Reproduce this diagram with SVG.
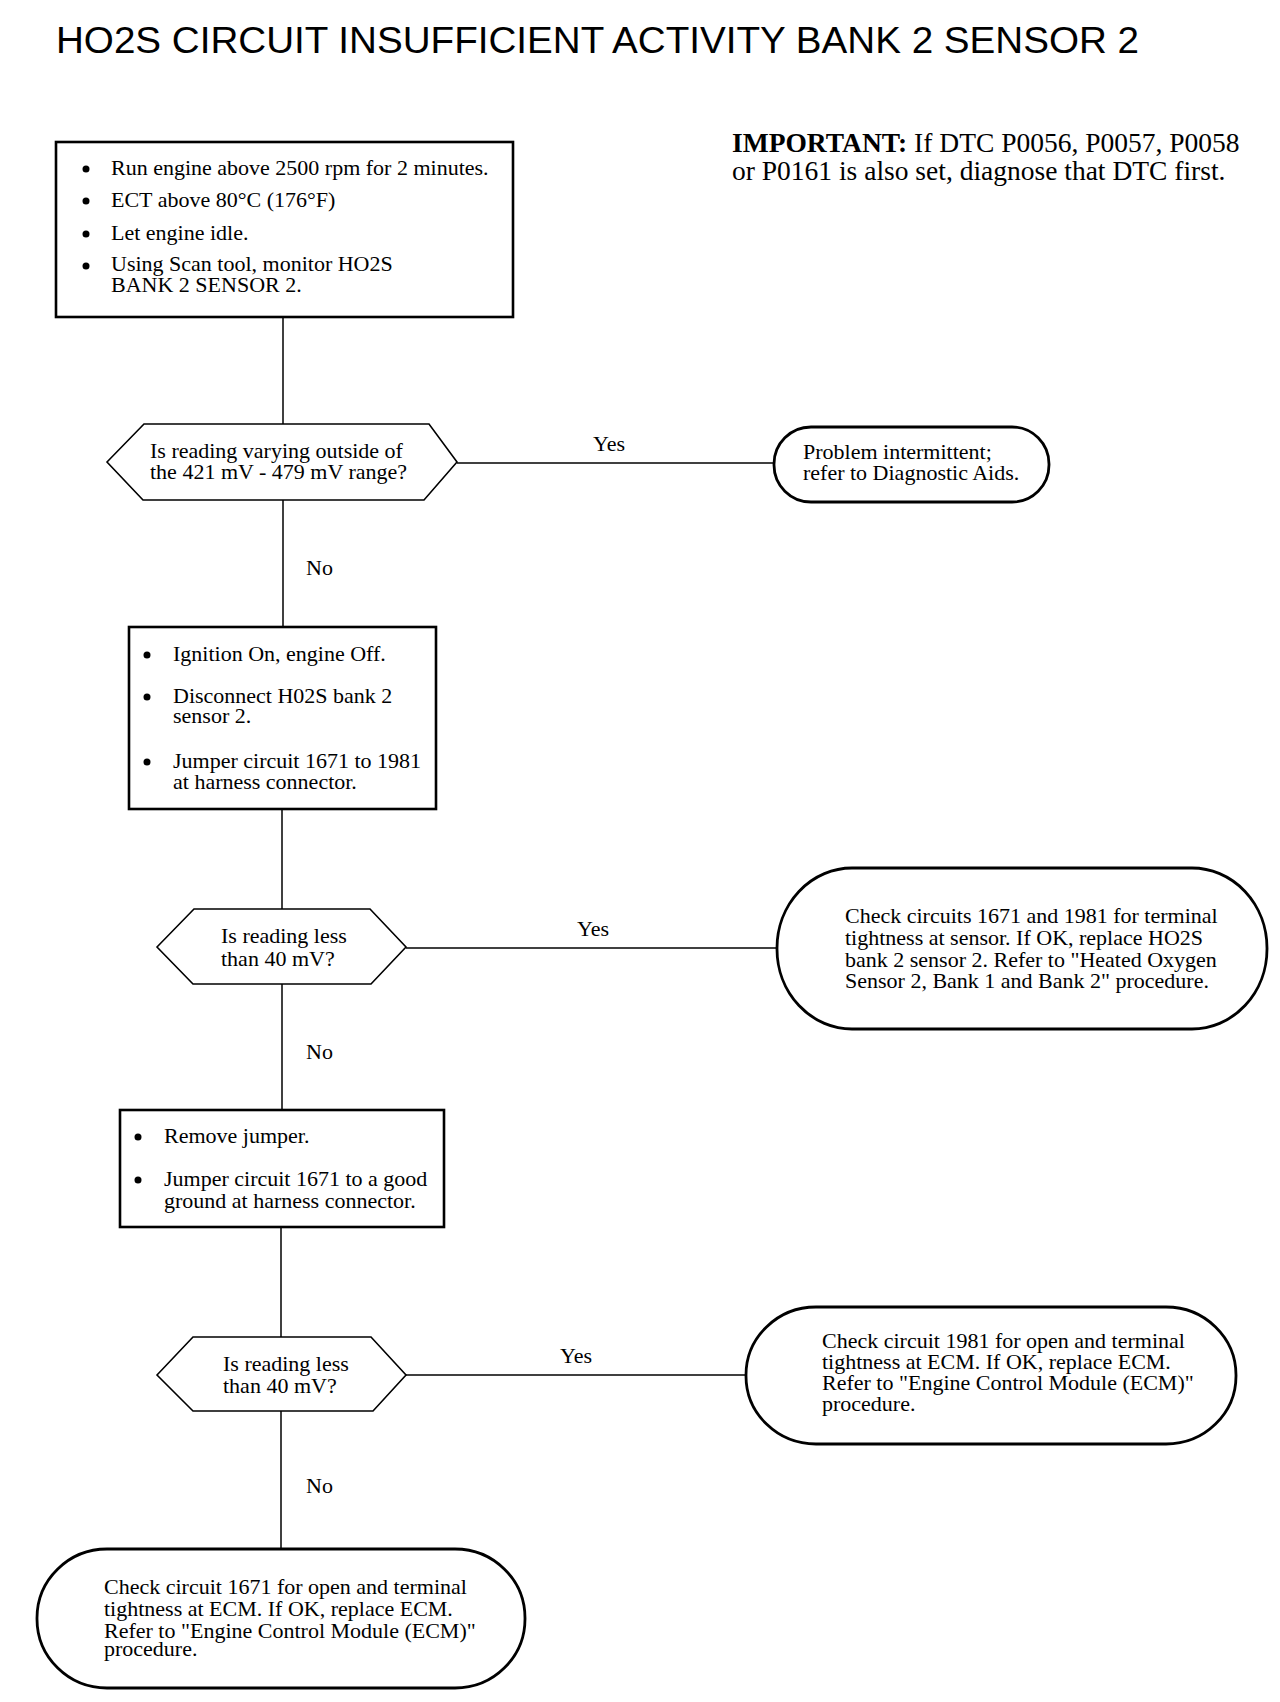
<svg xmlns="http://www.w3.org/2000/svg" width="1280" height="1702" viewBox="0 0 1280 1702">
<style>
.t{font-family:"Liberation Serif","Times New Roman",serif;font-size:22px;fill:#000}
.imp{font-family:"Liberation Serif","Times New Roman",serif;font-size:27.5px;fill:#000}
.box{fill:#fff;stroke:#000;stroke-width:2.6}
.term{fill:#fff;stroke:#000;stroke-width:2.8}
.dia{fill:#fff;stroke:#000;stroke-width:1.6}
.ln{stroke:#000;stroke-width:1.5;fill:none}
</style>
<rect width="1280" height="1702" fill="#fff"/>
<text x="56" y="53" font-family="'Liberation Sans',Arial,sans-serif" font-size="36" textLength="1083" lengthAdjust="spacingAndGlyphs">HO2S CIRCUIT INSUFFICIENT ACTIVITY BANK 2 SENSOR 2</text>
<g id="important">
<text class="imp" x="732" y="152"><tspan font-weight="bold">IMPORTANT:</tspan> If DTC P0056, P0057, P0058</text>
<text class="imp" x="732" y="180">or P0161 is also set, diagnose that DTC first.</text>
</g>
<g id="connectors">
<line class="ln" x1="283" y1="317" x2="283" y2="424"/>
<line class="ln" x1="283" y1="500" x2="283" y2="627"/>
<line class="ln" x1="282" y1="809" x2="282" y2="909"/>
<line class="ln" x1="282" y1="984" x2="282" y2="1110"/>
<line class="ln" x1="281" y1="1227" x2="281" y2="1337"/>
<line class="ln" x1="281" y1="1411" x2="281" y2="1549"/>
<line class="ln" x1="457" y1="463" x2="774" y2="463"/>
<line class="ln" x1="406" y1="948" x2="777" y2="948"/>
<line class="ln" x1="406" y1="1375" x2="746" y2="1375"/>
<text class="t" x="593" y="451">Yes</text>
<text class="t" x="306" y="575">No</text>
<text class="t" x="577" y="936">Yes</text>
<text class="t" x="306" y="1059">No</text>
<text class="t" x="560" y="1363">Yes</text>
<text class="t" x="306" y="1493">No</text>
</g>
<g id="step1">
<rect class="box" x="56" y="142" width="457" height="175"/>
<circle cx="86" cy="169" r="3.5"/><text class="t" x="111" y="175">Run engine  above 2500 rpm for 2 minutes.</text>
<circle cx="86" cy="201" r="3.5"/><text class="t" x="111" y="207">ECT above 80°C (176°F)</text>
<circle cx="86" cy="234" r="3.5"/><text class="t" x="111" y="240">Let engine idle.</text>
<circle cx="86" cy="266" r="3.5"/><text class="t" x="111" y="271">Using Scan tool, monitor HO2S</text>
<text class="t" x="111" y="292">BANK 2 SENSOR 2.</text>
</g>
<g id="decision1">
<polygon class="dia" points="107,462 144,424 429,424 457,462 424,500 143,500"/>
<text class="t" x="150" y="458">Is reading varying outside of</text>
<text class="t" x="150" y="479">the 421 mV - 479 mV range?</text>
</g>
<g id="result1">
<rect class="term" x="774" y="427" width="275" height="75" rx="37" ry="37"/>
<text class="t" x="803" y="459">Problem intermittent;</text>
<text class="t" x="803" y="480">refer to Diagnostic Aids.</text>
</g>
<g id="step2">
<rect class="box" x="129" y="627" width="307" height="182"/>
<circle cx="147" cy="655" r="3.5"/><text class="t" x="173" y="661">Ignition On, engine Off.</text>
<circle cx="147" cy="697" r="3.5"/><text class="t" x="173" y="703">Disconnect H02S bank 2</text>
<text class="t" x="173" y="723">sensor 2.</text>
<circle cx="147" cy="762" r="3.5"/><text class="t" x="173" y="768">Jumper circuit 1671 to 1981</text>
<text class="t" x="173" y="789">at harness connector.</text>
</g>
<g id="decision2">
<polygon class="dia" points="157,947 194,909 370,909 406,947 371,984 193,984"/>
<text class="t" x="221" y="943">Is reading less</text>
<text class="t" x="221" y="966">than 40 mV?</text>
</g>
<g id="result2">
<rect class="term" x="777" y="868" width="490" height="161" rx="75" ry="80"/>
<text class="t" x="845" y="923">Check circuits 1671 and 1981 for terminal</text>
<text class="t" x="845" y="945">tightness at sensor. If OK, replace HO2S</text>
<text class="t" x="845" y="967">bank 2 sensor 2. Refer to "Heated Oxygen</text>
<text class="t" x="845" y="988">Sensor 2, Bank 1 and Bank 2" procedure.</text>
</g>
<g id="step3">
<rect class="box" x="120" y="1110" width="324" height="117"/>
<circle cx="138" cy="1137" r="3.5"/><text class="t" x="164" y="1143">Remove jumper.</text>
<circle cx="138" cy="1180" r="3.5"/><text class="t" x="164" y="1186">Jumper circuit 1671 to a good</text>
<text class="t" x="164" y="1208">ground at harness connector.</text>
</g>
<g id="decision3">
<polygon class="dia" points="157,1375 193,1337 371,1337 406,1375 373,1411 193,1411"/>
<text class="t" x="223" y="1371">Is reading less</text>
<text class="t" x="223" y="1393">than 40 mV?</text>
</g>
<g id="result3">
<rect class="term" x="746" y="1307" width="490" height="137" rx="70" ry="68"/>
<text class="t" x="822" y="1348">Check circuit 1981 for open and terminal</text>
<text class="t" x="822" y="1369">tightness at ECM. If OK, replace ECM.</text>
<text class="t" x="822" y="1390">Refer to "Engine Control Module (ECM)"</text>
<text class="t" x="822" y="1411">procedure.</text>
</g>
<g id="result4">
<rect class="term" x="37" y="1549" width="488" height="139" rx="70" ry="69"/>
<text class="t" x="104" y="1594">Check circuit 1671 for open and terminal</text>
<text class="t" x="104" y="1616">tightness at ECM. If OK, replace ECM.</text>
<text class="t" x="104" y="1638">Refer to "Engine Control Module (ECM)"</text>
<text class="t" x="104" y="1656">procedure.</text>
</g>
</svg>
